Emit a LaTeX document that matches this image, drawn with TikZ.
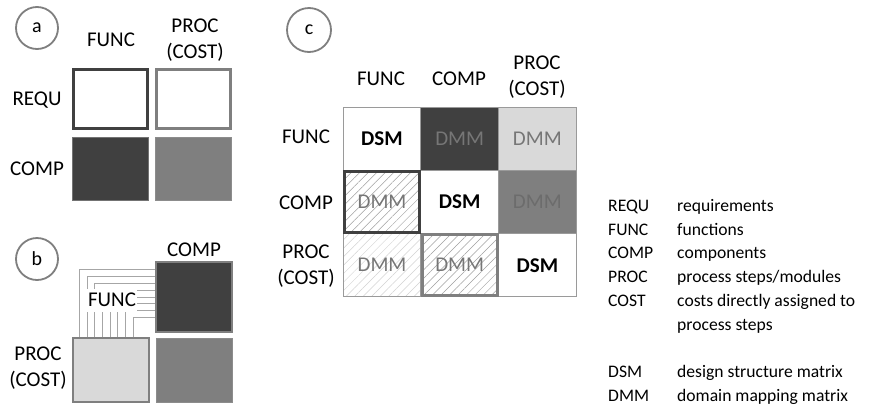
\documentclass[tikz,border=0pt]{standalone}
\usepackage{fontspec}
\setmainfont{Carlito}
\usetikzlibrary{patterns.meta}
\definecolor{dk}{HTML}{404040}
\definecolor{md}{HTML}{7F7F7F}
\definecolor{lt}{HTML}{D9D9D9}
\definecolor{gridc}{HTML}{9A9A9A}
\definecolor{dmmc}{HTML}{767676}
\definecolor{blinec}{HTML}{A6A6A6}
\begin{document}
\begin{tikzpicture}[x=1pt,y=-1pt,
  lab/.style={font=\fontsize{21}{26}\selectfont, align=center, inner sep=0pt},
  leg/.style={font=\fontsize{17.6}{22}\selectfont, anchor=base west, inner sep=0pt},
  tag/.style={circle, draw=md, line width=1.8pt, minimum size=42pt, inner sep=0pt, font=\fontsize{20}{24}\selectfont},
  abox/.style={rectangle, inner sep=0pt, minimum width=76pt, minimum height=62pt},
  bline/.style={draw=blinec, line width=0.8pt},
  cell/.style={rectangle, draw=gridc, line width=0.9pt, minimum width=77.7pt, minimum height=63.3pt, inner sep=0pt, font=\fontsize{21}{26}\selectfont},
  dsm/.style={cell, fill=white, font=\fontsize{21}{26}\selectfont\bfseries},
  dmm/.style={cell, text=dmmc},
  hatch/.style={pattern={Lines[angle=45,distance=6pt,line width=0.5pt]}, pattern color=#1}
]
\useasboundingbox (0,0) rectangle (877,405);

% ---------- part a ----------
\node[tag] (ta) at (37,28) {a};
\node[lab] (aH1) at (111,40) {FUNC};
\node[lab] (aH2) at (195,40) {PROC\\(COST)};
\node[lab] (aR1) at (37,100) {REQU};
\node[lab] (aR2) at (37,169) {COMP};
\node[abox, draw=dk, line width=3pt, minimum width=74pt, minimum height=59pt] (aRF) at (110.5,99) {};
\node[abox, draw=md, line width=3pt, minimum width=74pt, minimum height=59pt] (aRP) at (193.5,99) {};
\node[abox, fill=dk, draw=gray!80!dk, line width=1pt, minimum height=63pt] (aCF) at (110.5,168.5) {};
\node[abox, fill=md, draw=gray!90, line width=1pt, minimum height=63pt] (aCP) at (193.5,168.5) {};

% ---------- part b ----------
\node[tag] (tb) at (37,259) {b};
\node[lab] (bH) at (194,250) {COMP};
\node[lab] (bR) at (38,368) {PROC\\(COST)};
\node[abox, fill=dk, draw=md, line width=1.4pt, minimum height=70pt] (bC) at (194,297) {};
\node[abox, fill=md, draw=gray!90, line width=1pt, minimum height=64pt] (bM) at (194,370) {};
\node[abox, fill=lt, draw=md, line width=1.4pt, minimum height=64pt] (bP) at (111,370) {};
\foreach \i in {0,...,7} {
  \draw[bline] ([xshift={(7+7.7*\i)*1pt}]bP.north west) |- ([yshift={-(8+6.9*\i)*1pt}]bC.north west);
}
\node[lab, fill=white, inner xsep=1pt, minimum height=23pt] (bF) at (112,300) {FUNC};

% ---------- part c ----------
\node[tag, minimum size=44pt] (tc) at (309,30) {c};
\node[lab] (cH1) at (381,79) {FUNC};
\node[lab] (cH2) at (459,79) {COMP};
\node[lab] (cH3) at (537,77) {PROC\\(COST)};
\node[lab] (cR1) at (306,137) {FUNC};
\node[lab] (cR2) at (306,203) {COMP};
\node[lab] (cR3) at (306,266) {PROC\\(COST)};

\node[dsm] (c11) at (382,138.6) {DSM};
\node[dmm, fill=dk] (c12) at (459.7,138.6) {DMM};
\node[dmm, fill=lt] (c13) at (537.4,138.6) {DMM};
\node[dsm] (c22) at (459.7,201.9) {DSM};
\node[dmm, fill=md, text=gray!85!black] (c23) at (537.4,201.9) {DMM};
\node[dmm, hatch=gray!35] (c31) at (382,265.2) {DMM};
\node[dsm] (c33) at (537.4,265.2) {DSM};
\node[dmm, hatch=gray!75, draw=dk, line width=3pt, minimum width=75pt, minimum height=60.5pt] (c21) at (382,201.9) {DMM};
\node[dmm, hatch=gray!75, draw=md, line width=3pt, minimum width=75pt, minimum height=60.5pt] (c32) at (459.7,265.2) {DMM};

% ---------- legend ----------
\node[leg] (k1) at (608,211.5) {REQU};
\node[leg] (v1) at (677,211.5) {requirements};
\node[leg] (k2) at (608,235.2) {FUNC};
\node[leg] (v2) at (677,235.2) {functions};
\node[leg] (k3) at (608,258.9) {COMP};
\node[leg] (v3) at (677,258.9) {components};
\node[leg] (k4) at (608,282.6) {PROC};
\node[leg] (v4) at (677,282.6) {process steps/modules};
\node[leg] (k5) at (608,306.3) {COST};
\node[leg] (v5) at (677,306.3) {costs directly assigned to};
\node[leg] (v6) at (677,330) {process steps};
\node[leg] (k7) at (608,377.5) {DSM};
\node[leg] (v7) at (677,377.5) {design structure matrix};
\node[leg] (k8) at (608,401) {DMM};
\node[leg] (v8) at (677,401) {domain mapping matrix};
\end{tikzpicture}
\end{document}
